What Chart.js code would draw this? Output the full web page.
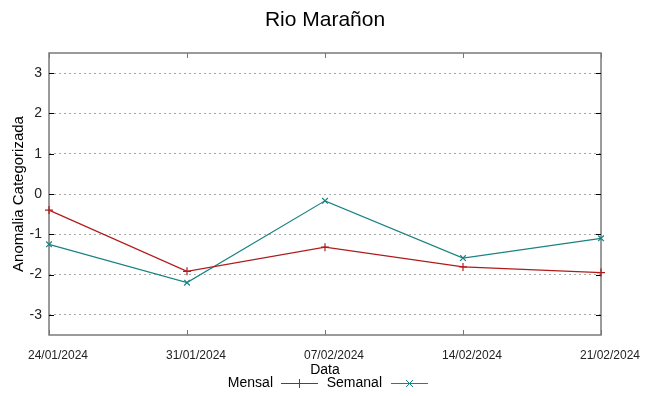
<!DOCTYPE html>
<html>
<head>
<meta charset="utf-8">
<script src="https://cdn.jsdelivr.net/npm/chart.js@4"></script>
<style>
  body { margin: 0; background: #fff; }
  canvas { display: block; }
</style>
</head>
<body>
<canvas id="myChart" width="649" height="396"></canvas>
<script>
// values
const dates = ['24/01/2024', '31/01/2024', '07/02/2024', '14/02/2024', '21/02/2024'];
const mensal = [-0.4, -1.92, -1.32, -1.81, -1.95];
const semanal = [-1.25, -2.2, -0.17, -1.59, -1.1];
const yTicks = [-3, -2, -1, 0, 1, 2, 3];

const redColor = '#b01c1c';
const tealColor = '#1a8282';
const font = 'Liberation Sans, Arial, sans-serif';

// gnuplot style frame, inward ticks, title and legend
const gnuplotLook = {
    id: 'gnuplotLook',
    beforeDatasetsDraw(chart) {
        const { ctx, chartArea: a } = chart;
        const x = chart.scales.x, y = chart.scales.y;
        ctx.save();
        ctx.strokeStyle = '#7a7a7a';
        ctx.lineWidth = 1.5;
        ctx.strokeRect(a.left, a.top, a.right - a.left, a.bottom - a.top);
        ctx.strokeStyle = '#000';
        ctx.lineWidth = 1;
        yTicks.forEach(v => {
            const py = Math.round(y.getPixelForValue(v)) + 0.5;
            ctx.beginPath();
            ctx.moveTo(a.left, py); ctx.lineTo(a.left + 5, py);
            ctx.moveTo(a.right, py); ctx.lineTo(a.right - 5, py);
            ctx.stroke();
        });
        ctx.strokeStyle = '#777';
        dates.forEach((d, i) => {
            const px = Math.round(x.getPixelForValue(i)) + 0.5;
            ctx.beginPath();
            ctx.moveTo(px, a.bottom); ctx.lineTo(px, a.bottom - 5);
            ctx.moveTo(px, a.top); ctx.lineTo(px, a.top + 5);
            ctx.stroke();
        });
        ctx.restore();
    },
    afterDraw(chart) {
        const { ctx } = chart;
        ctx.save();
        ctx.fillStyle = '#000';
        ctx.font = '21px ' + font;
        ctx.textAlign = 'center';
        ctx.textBaseline = 'middle';
        ctx.fillText('Rio Marañon', 325, 20);

        // legend
        ctx.font = '14px ' + font;
        ctx.textAlign = 'right';
        const ly = 383;
        const items = [
            { text: 'Mensal', tx: 273, x0: 281, x1: 318, color: redColor, mark: '+' },
            { text: 'Semanal', tx: 382, x0: 391, x1: 428, color: tealColor, mark: 'x' }
        ];
        items.forEach(it => {
            ctx.fillStyle = '#000';
            ctx.fillText(it.text, it.tx, ly);
            ctx.strokeStyle = it.color;
            ctx.lineWidth = 1;
            ctx.beginPath();
            ctx.moveTo(it.x0, ly + 0.5); ctx.lineTo(it.x1, ly + 0.5);
            const cx = (it.x0 + it.x1) / 2;
            if (it.mark === '+') {
                ctx.moveTo(cx, ly - 4); ctx.lineTo(cx, ly + 5);
            } else {
                ctx.moveTo(cx - 3.5, ly - 3); ctx.lineTo(cx + 3.5, ly + 4);
                ctx.moveTo(cx + 3.5, ly - 3); ctx.lineTo(cx - 3.5, ly + 4);
            }
            ctx.stroke();
        });
        ctx.restore();
    }
};

const ctx = document.getElementById('myChart');

new Chart(ctx, {
    type: 'line',
    data: {
        labels: dates,
        datasets: [{
            label: 'Mensal',
            data: mensal,
            borderColor: redColor,
            backgroundColor: redColor,
            borderWidth: 1.2,
            pointStyle: 'cross',
            pointRadius: 4,
            pointBorderWidth: 1.2,
            tension: 0
        }, {
            label: 'Semanal',
            data: semanal,
            borderColor: tealColor,
            backgroundColor: tealColor,
            borderWidth: 1.2,
            pointStyle: 'crossRot',
            pointRadius: 4,
            pointBorderWidth: 1.2,
            tension: 0
        }]
    },
    options: {
        responsive: false,
        animation: false,
        devicePixelRatio: 1,
        layout: { padding: { top: 53, right: 48, left: 0, bottom: 0 } },
        plugins: {
            legend: { display: false },
            title: { display: false },
            tooltip: { enabled: false }
        },
        scales: {
            x: {
                type: 'category',
                offset: false,
                grid: { display: false, drawTicks: false },
                border: { display: false },
                ticks: {
                    color: '#222',
                    font: { family: font, size: 12 },
                    padding: 13,
                    labelOffset: 9,
                    maxRotation: 0,
                    autoSkip: false
                },
                title: {
                    display: true,
                    text: 'Data',
                    color: '#000',
                    font: { family: font, size: 14 },
                    padding: { top: 0, bottom: 17 }
                },
                afterFit(scale) { scale.height = 61; }
            },
            y: {
                min: -3.5,
                max: 3.5,
                afterBuildTicks(scale) {
                    scale.ticks = yTicks.map(v => ({ value: v }));
                },
                grid: { color: '#a8a8a8', lineWidth: 1, drawTicks: false },
                border: { display: false, dash: [2, 3] },
                ticks: {
                    color: '#222',
                    font: { family: font, size: 14 },
                    padding: 7
                },
                title: {
                    display: true,
                    text: 'Anomalia Categorizada',
                    color: '#000',
                    font: { family: font, size: 15 },
                    padding: { top: 10, bottom: 0 }
                },
                afterFit(scale) { scale.width = 49; }
            }
        }
    },
    plugins: [gnuplotLook]
});
</script>
</body>
</html>
